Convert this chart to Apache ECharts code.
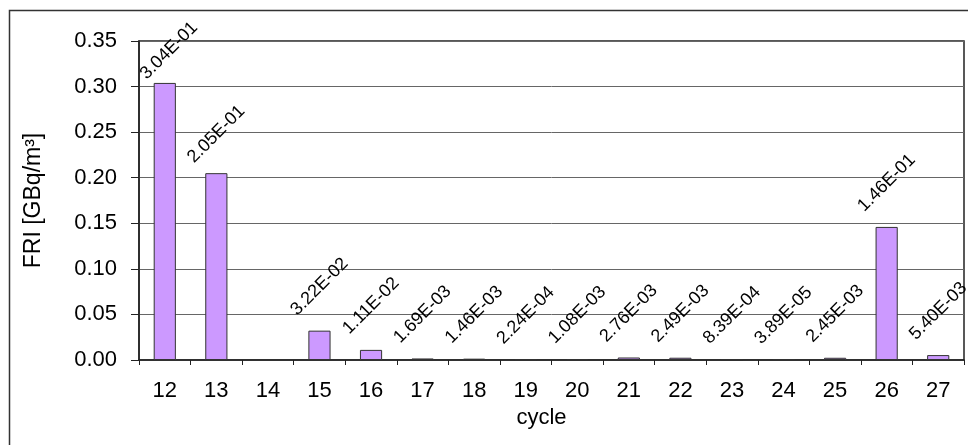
<!DOCTYPE html>
<html>
<head>
<meta charset="utf-8">
<script src="https://cdn.jsdelivr.net/npm/echarts@6/dist/echarts.min.js"></script>
<style>
  html, body { margin: 0; padding: 0; background: #fff; }
  #chart { width: 968px; height: 445px; }
</style>
</head>
<body>
<div id="chart"></div>
<script>
var categories = ['12','13','14','15','16','17','18','19','20','21','22','23','24','25','26','27'];
var friValues = [0.304, 0.205, null, 0.0322, 0.0111, 0.00169, 0.00146, 0.000224, 0.00108, 0.00276, 0.00249, 0.000839, 0.0000389, 0.00245, 0.146, 0.0054];
var yTicks = [0, 0.05, 0.10, 0.15, 0.20, 0.25, 0.30, 0.35];

function sci(v) {
  var s = v.toExponential(2).split('e');
  var e = parseInt(s[1], 10);
  var sign = e < 0 ? '-' : '+';
  var a = Math.abs(e);
  return s[0] + 'E' + sign + (a < 10 ? '0' + a : '' + a);
}

var labelOverride = { '12': { distance: 28, offset: [6, 0] }, '13': { distance: 39 } };

var seriesData = friValues.map(function (v, i) {
  var item = { value: v };
  var o = labelOverride[categories[i]];
  if (o !== undefined) item.label = o;
  return item;
});

var FONT = '"Liberation Sans", Arial, sans-serif';
var chart = echarts.init(document.getElementById('chart'), null, { renderer: 'canvas' });
chart.setOption({
  animation: false,
  backgroundColor: '#ffffff',
  textStyle: { fontFamily: FONT },
  graphic: [{
    type: 'rect',
    shape: { x: 9.5, y: 10.5, width: 1000, height: 500 },
    style: { fill: 'none', stroke: '#333', lineWidth: 1.5 },
    z: -1
  }],
  grid: {
    left: 139, top: 41, right: 4, bottom: 85,
    show: true, borderColor: '#222', borderWidth: 1.5, backgroundColor: 'transparent'
  },
  xAxis: {
    type: 'category',
    data: categories,
    name: 'cycle',
    nameLocation: 'middle',
    nameGap: 45,
    nameTextStyle: { fontSize: 22, color: '#000', fontFamily: FONT, padding: [0, 20, 0, 0] },
    axisLine: { lineStyle: { color: '#222', width: 1.5 } },
    axisTick: { show: true, length: 5, lineStyle: { color: '#222' } },
    axisLabel: { fontSize: 22, color: '#000', margin: 20, fontFamily: FONT },
    splitLine: { show: false }
  },
  yAxis: {
    type: 'value',
    min: yTicks[0],
    max: yTicks[yTicks.length - 1],
    interval: 0.05,
    name: 'FRI [GBq/m³]',
    nameLocation: 'middle',
    nameRotate: 90,
    nameGap: 94,
    nameTextStyle: { fontSize: 23, color: '#000', fontFamily: FONT },
    axisLine: { show: true, lineStyle: { color: '#222', width: 1.5 } },
    axisTick: { show: true, length: 8, lineStyle: { color: '#222' } },
    axisLabel: { fontSize: 22, color: '#000', margin: 22, fontFamily: FONT,
      formatter: function (v) { return v.toFixed(2); } },
    splitLine: { show: true, lineStyle: { color: '#666', width: 1 } }
  },
  series: [{
    type: 'bar',
    data: seriesData,
    barWidth: '43%',
    itemStyle: { color: '#cc99ff', borderColor: '#333', borderWidth: 1 },
    label: {
      show: true,
      position: 'top',
      distance: 44,
      rotate: 45,
      align: 'center',
      verticalAlign: 'middle',
      fontSize: 18,
      color: '#000',
      fontFamily: FONT,
      formatter: function (p) { return p.value == null ? '' : sci(p.value); }
    }
  }]
});
</script>
</body>
</html>
